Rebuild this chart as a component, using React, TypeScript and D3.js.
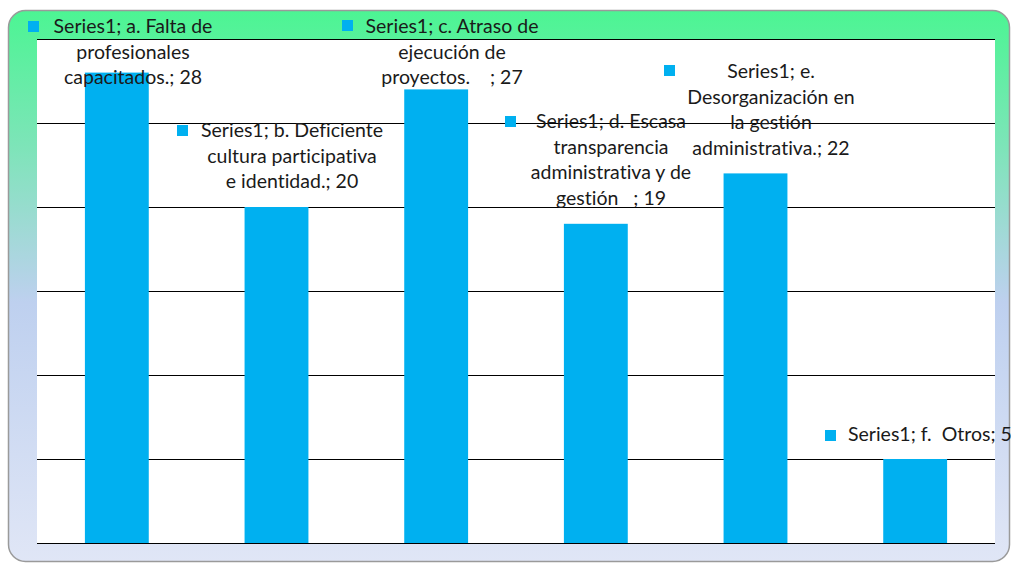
import React from "react";
import { scaleBand, scaleLinear } from "d3";

const categories = ["a", "b", "c", "d", "e", "f"];
const values = [28, 20, 27, 19, 22, 5];
const labelLines = [
  ["Series1; a. Falta de", "profesionales", "capacitados.; 28"],
  ["Series1; b. Deficiente", "cultura participativa", "e identidad.; 20"],
  ["Series1; c. Atraso de", "ejecución de", "proyectos.    ; 27"],
  ["Series1; d. Escasa", "transparencia", "administrativa y de", "gestión   ; 19"],
  ["Series1; e.", "Desorganización en", "la gestión", "administrativa.; 22"],
  ["Series1; f.  Otros; 5"],
];
const yTicks = [0, 5, 10, 15, 20, 25, 30];

// label anchor: centre x and first-line baseline, in chart pixels
const labelPos = [
  { cx: 133, y: 33, key: [28, 21] },
  { cx: 292, y: 137, key: [177, 125] },
  { cx: 452, y: 33, key: [342, 20] },
  { cx: 611, y: 128, key: [505, 116] },
  { cx: 771, y: 78, key: [664, 65] },
  { cx: 924, y: 441, key: [825, 430] },
];

const W = 1011;
const H = 564;
const plot = { left: 37, right: 995, top: 39, bottom: 543 };
const blue = "#00b0f0";

export default function App() {
  const x = scaleBand<string>()
    .domain(categories)
    .range([plot.left, plot.right])
    .paddingInner(0.6)
    .paddingOuter(0.3);
  const y = scaleLinear().domain([0, 30]).range([plot.bottom, plot.top]);

  return (
    <svg
      width={W}
      height={H}
      style={{ position: "absolute", left: 0, top: 0 }}
      fontFamily="Lato, 'Open Sans', sans-serif"
    >
      <defs>
        <linearGradient id="bg" x1="0" y1="0" x2="0" y2="1">
          <stop offset="0" stopColor="#4cf593" />
          <stop offset="0.25" stopColor="#7ee4b9" />
          <stop offset="0.53" stopColor="#bed0ef" />
          <stop offset="1" stopColor="#e0e6f6" />
        </linearGradient>
      </defs>
      <rect x={0} y={0} width={W} height={H} fill="#fff" />
      <rect
        x={8.5}
        y={10.5}
        width={1001}
        height={551}
        rx={17}
        fill="url(#bg)"
        stroke="#9a9a9a"
        strokeWidth={1.5}
      />
      <rect
        x={plot.left}
        y={plot.top}
        width={plot.right - plot.left}
        height={plot.bottom - plot.top}
        fill="#fff"
      />
      {yTicks.map((t) => (
        <line
          key={t}
          x1={plot.left}
          x2={plot.right}
          y1={Math.round(y(t)) + 0.5}
          y2={Math.round(y(t)) + 0.5}
          stroke="#000"
          strokeWidth={1.2}
        />
      ))}
      {categories.map((c, i) => (
        <rect
          key={c}
          x={x(c)}
          y={y(values[i])}
          width={x.bandwidth()}
          height={y(0) - y(values[i])}
          fill={blue}
        />
      ))}
      {categories.map((c, i) => {
        const p = labelPos[i];
        const lines = labelLines[i];
        const tx = i === 5 ? 848 : p.cx;
        return (
          <g key={"l" + c}>
            <rect x={p.key[0]} y={p.key[1]} width={11} height={11} fill={blue} />
            <text
              x={tx}
              y={p.y}
              fontSize={19.5}
              fill="#1a1a1a"
              textAnchor={i === 5 ? "start" : "middle"}
              style={{ whiteSpace: "pre", fontVariantLigatures: "none" }}
            >
              {lines.map((l, j) => (
                <tspan key={j} x={tx} dy={j === 0 ? 0 : 25.5}>
                  {l}
                </tspan>
              ))}
            </text>
          </g>
        );
      })}
    </svg>
  );
}
